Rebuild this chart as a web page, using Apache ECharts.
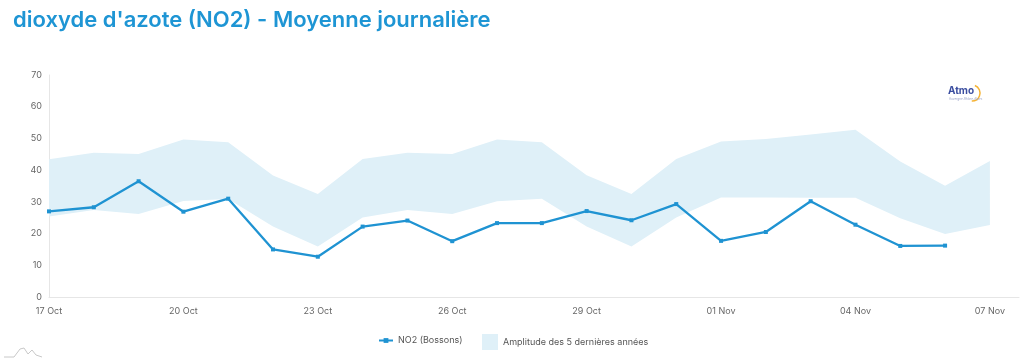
<!DOCTYPE html>
<html>
<head>
<meta charset="utf-8">
<script src="https://cdn.jsdelivr.net/npm/echarts@6/dist/echarts.min.js"></script>
<style>html,body{margin:0;padding:0;background:#fff}#c{width:1024px;height:363px}</style>
</head>
<body>
<div id="c"></div>
<script>
var dates = ['17 Oct','18 Oct','19 Oct','20 Oct','21 Oct','22 Oct','23 Oct','24 Oct','25 Oct','26 Oct','27 Oct','28 Oct','29 Oct','30 Oct','31 Oct','01 Nov','02 Nov','03 Nov','04 Nov','05 Nov','06 Nov','07 Nov'];
var no2 = [27.0, 28.3, 36.5, 26.9, 31.0, 15.0, 12.7, 22.2, 24.1, 17.6, 23.3, 23.3, 27.1, 24.2, 29.3, 17.7, 20.5, 30.2, 22.8, 16.1, 16.2];
var bandMin = [25.4, 27.4, 26.2, 30.3, 30.9, 22.2, 15.9, 25.1, 27.4, 26.2, 30.2, 31.0, 22.2, 15.9, 25.1, 31.4, 31.4, 31.3, 31.3, 24.8, 19.9, 22.7];
var bandMax = [43.4, 45.5, 45.1, 49.7, 48.8, 38.3, 32.5, 43.5, 45.5, 45.1, 49.7, 48.8, 38.4, 32.5, 43.5, 49.0, 49.8, 51.2, 52.7, 42.7, 35.1, 42.9];
var yTicks = [0, 10, 20, 30, 40, 50, 60, 70];

var lineData = no2.map(function (v, i) { return [i, v]; });

var blue = '#1f93d2';
var bandColor = '#dff0f8';
var font = 'Inter';

var chart = echarts.init(document.getElementById('c'), null, {renderer: 'canvas'});
chart.setOption({
  animation: false,
  title: {
    text: "dioxyde d'azote (NO2) - Moyenne journalière",
    left: 8, top: 4,
    textStyle: {color: '#1e95d4', fontFamily: font, fontWeight: 600, fontSize: 22}
  },
  grid: {left: 49, right: 5, top: 75, bottom: 66},
  xAxis: {
    type: 'value', min: 0, max: 21.65, interval: 3,
    axisLine: {show: true, lineStyle: {color: '#e6e6e6', width: 1}},
    axisTick: {show: false},
    splitLine: {show: false},
    axisLabel: {
      color: '#666', fontFamily: font, fontSize: 9, margin: 10, showMaxLabel: false,
      formatter: function (v) {
        var i = Math.round(v);
        if (Math.abs(v - i) > 1e-6 || i % 3 !== 0) return '';
        return dates[i] || '';
      }
    }
  },
  yAxis: {
    type: 'value', min: yTicks[0], max: yTicks[yTicks.length - 1], interval: 10,
    axisLine: {show: true, lineStyle: {color: '#e6e6e6', width: 1}},
    axisTick: {show: false},
    splitLine: {show: false},
    axisLabel: {color: '#666', fontFamily: font, fontSize: 9, margin: 7}
  },
  legend: [{
    left: 373, top: 331,
    itemWidth: 14, itemHeight: 6,
    data: [{name: 'NO2 (Bossons)'}],
    textStyle: {color: '#555', fontFamily: font, fontSize: 9}
  }, {
    left: 477, top: 329,
    itemWidth: 16, itemHeight: 16,
    icon: 'rect',
    data: [{name: 'Amplitude des 5 dernières années'}],
    textStyle: {color: '#555', fontFamily: font, fontSize: 9}
  }],
  series: [{
    name: 'Amplitude des 5 dernières années', type: 'custom',
    data: [0],
    itemStyle: {color: bandColor},
    z: 1,
    renderItem: function (params, api) {
      var pts = [];
      for (var i = 0; i < bandMax.length; i++) pts.push(api.coord([i, bandMax[i]]));
      for (var j = bandMin.length - 1; j >= 0; j--) pts.push(api.coord([j, bandMin[j]]));
      return {type: 'polygon', shape: {points: pts}, style: {fill: bandColor, stroke: null}};
    }
  }, {
    name: 'NO2 (Bossons)', type: 'line', data: lineData,
    symbol: 'rect', symbolSize: 4, showSymbol: true,
    lineStyle: {color: blue, width: 2.3},
    itemStyle: {color: blue},
    z: 3
  }],
  graphic: [{
    type: 'text', left: 948, top: 86,
    style: {text: 'Atmo', fill: '#3b4ea0', font: 'bold 10px ' + font}
  }, {
    type: 'arc', shape: {cx: 972, cy: 93, r: 8, startAngle: -1.2, endAngle: 1.6},
    style: {stroke: '#f5b335', lineWidth: 1.5, fill: 'none'}
  }, {
    type: 'text', left: 949, top: 98,
    style: {text: 'Auvergne-Rhône-Alpes', fill: '#9aa3c7', font: '3px ' + font}
  }, {
    type: 'polyline',
    shape: {points: [[4, 357], [14, 357], [20, 349], [24, 348], [28, 354], [32, 350], [36, 355], [42, 357]]},
    style: {stroke: '#c8c8c8', lineWidth: 1, fill: 'none'}
  }]
});
</script>
</body>
</html>
